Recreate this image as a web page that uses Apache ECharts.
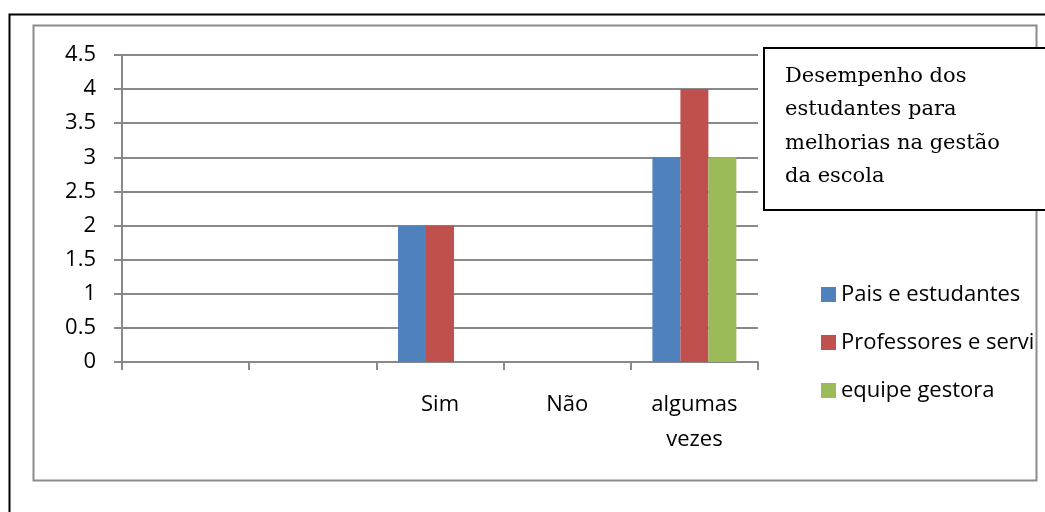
<!DOCTYPE html>
<html>
<head>
<meta charset="utf-8">
<script src="https://cdn.jsdelivr.net/npm/echarts@6/dist/echarts.min.js"></script>
<style>
  html, body { margin: 0; padding: 0; background: #fff; }
  #chart { width: 1045px; height: 512px; }
</style>
</head>
<body>
<div id="chart"></div>
<script>
// Answers per category
const categories = ['', '', 'Sim', 'Não', 'algumas\nvezes'];
const seriesNames = ['Pais e estudantes', 'Professores e servidores', 'equipe gestora'];
const paisEstudantes = [0, 0, 2, 0, 3];
const professoresServidores = [0, 0, 2, 0, 4];
const equipeGestora = [0, 0, 0, 0, 3];
const yTicks = [0, 0.5, 1, 1.5, 2, 2.5, 3, 3.5, 4, 4.5];
const titleLines = ['Desempenho dos', 'estudantes para', 'melhorias na gestão', 'da escola'];

const colors = ['#4F81BD', '#C0504D', '#9BBB59'];
const sans = '"Open Sans", Lato, sans-serif';
const gridColor = '#898989';

const chart = echarts.init(document.getElementById('chart'), null, { renderer: 'canvas' });

chart.setOption({
  animation: false,
  color: colors,
  graphic: [
    { type: 'rect', z: -10, shape: { x: 9.5, y: 14.5, width: 1100, height: 600 },
      style: { fill: '#fff', stroke: '#000', lineWidth: 2 } },
    { type: 'rect', z: -9, shape: { x: 33.5, y: 25.5, width: 1003, height: 455 },
      style: { fill: '#fff', stroke: '#8c8c8c', lineWidth: 2 } },
    { type: 'rect', z: 5, shape: { x: 764, y: 48, width: 400, height: 162 },
      style: { fill: '#fff', stroke: '#000', lineWidth: 2 } },
    { type: 'text', z: 6, left: 785, top: 60,
      style: { text: titleLines.join('\n'), font: '21px "DejaVu Serif", serif',
               fill: '#000', lineHeight: 33.3 } }
  ],
  legend: {
    orient: 'vertical',
    left: 816,
    top: 278,
    itemWidth: 15,
    itemHeight: 15,
    itemGap: 25,
    icon: 'rect',
    data: seriesNames,
    textStyle: { fontFamily: sans, fontSize: 22, color: '#000', lineHeight: 23,
                 width: 200, overflow: 'truncate', ellipsis: '' }
  },
  grid: { left: 122, right: 287, top: 55, bottom: 150, containLabel: false },
  xAxis: {
    type: 'category',
    data: categories,
    boundaryGap: true,
    axisLine: { lineStyle: { color: gridColor, width: 2 } },
    axisTick: { show: true, length: 8, alignWithLabel: false, lineStyle: { color: gridColor, width: 2 } },
    axisLabel: { interval: 0, margin: 25, fontFamily: sans, fontSize: 22, color: '#000',
                 lineHeight: 35, align: 'center' }
  },
  yAxis: {
    type: 'value',
    min: 0,
    max: 4.5,
    interval: 0.5,
    axisLine: { show: true, lineStyle: { color: gridColor, width: 2 } },
    axisTick: { show: true, length: 8, lineStyle: { color: gridColor, width: 2 } },
    splitLine: { show: true, lineStyle: { color: gridColor, width: 2 } },
    axisLabel: { margin: 26, fontFamily: sans, fontSize: 22, color: '#000',
                 formatter: v => String(yTicks.find(t => Math.abs(t - v) < 1e-9) ?? v) }
  },
  series: [
    { name: seriesNames[0], type: 'bar', data: paisEstudantes, barGap: '0%', barCategoryGap: '34%' },
    { name: seriesNames[1], type: 'bar', data: professoresServidores, barGap: '0%', barCategoryGap: '34%' },
    { name: seriesNames[2], type: 'bar', data: equipeGestora, barGap: '0%', barCategoryGap: '34%' }
  ]
});
</script>
</body>
</html>
